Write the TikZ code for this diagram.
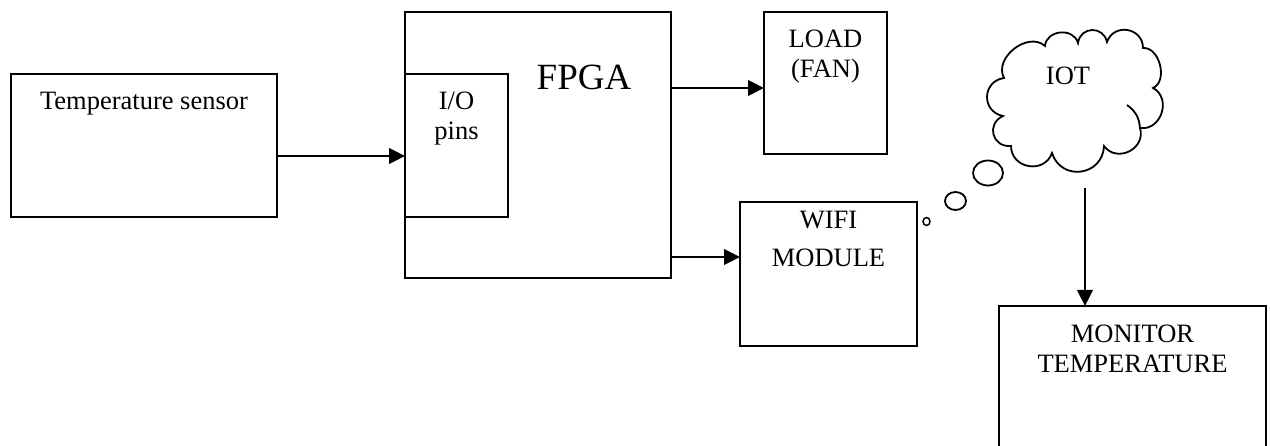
\documentclass[tikz,border=0pt]{standalone}
\usepackage{fontspec}
\setmainfont{Liberation Serif}
\usetikzlibrary{arrows.meta,calc}
\begin{document}
\begin{tikzpicture}[x=1pt,y=-1pt,
  box/.style={draw,line width=2pt,inner sep=0pt,outer sep=0pt},
  arr/.style={line width=2.3pt,-{Triangle[length=16pt,width=15.5pt]}},
  lbl/.style={font=\fontsize{26.5}{30}\selectfont,align=center,inner sep=0pt},
  bubble/.style={draw,line width=1.8pt}]
\useasboundingbox (0,0) rectangle (1270,446);
\clip (0,0) rectangle (1270,446);
% boxes
\node[box,minimum width=266pt,minimum height=143pt] (sensor) at (144,145.5) {};
\node[box,minimum width=266pt,minimum height=266pt] (fpga) at (538,145) {};
\node[box,fill=white,minimum width=103pt,minimum height=143pt] (io) at (456.5,145.5) {};
\node[box,minimum width=123pt,minimum height=142pt] (load) at (825.5,83) {};
\node[box,minimum width=177pt,minimum height=144pt] (wifi) at (828.5,274) {};
\node[box,minimum width=267pt,minimum height=160pt] (monitor) at (1132.5,386) {};
% texts
\node[lbl] (tsens) at (144,104) {Temperature sensor};
\node[lbl] (iot) at (456.5,119) {I/O\\pins};
\node[lbl,font=\fontsize{37}{40}\selectfont] (tfpga) at (584,77.5) {FPGA};
\node[lbl] (tload) at (825.5,57) {LOAD\\(FAN)};
\node[lbl] (twifi) at (828.5,239) {WIFI\\[8pt]MODULE};
\node[lbl] (tmon) at (1132.5,348.5) {MONITOR\\TEMPERATURE};
% cloud
\draw[bubble] (1004,78)
  to[bend left=80,looseness=1.12] (1045,46)
  to[bend left=80,looseness=1.26] (1078,43)
  to[bend left=80,looseness=1.49] (1107,42)
  to[bend left=80,looseness=1.44] (1143,48)
  to[bend left=80,looseness=1.04] (1153,88)
  to[bend left=80,looseness=1.31] (1140,128)
  to[bend left=80,looseness=1.38] (1104,146)
  to[bend left=80,looseness=1.47] (1052,153)
  to[bend left=80,looseness=1.40] (1011,146)
  to[bend left=80,looseness=1.56] (1003,116)
  to[bend left=80,looseness=1.50] (1004,78) -- cycle;
\draw[bubble] (1127,105) to[bend left=25] (1140,128);
\node[lbl] (tiot) at (1068,75.5) {IOT};
% thought bubbles
\draw[bubble] (988,173) ellipse [x radius=15, y radius=12.5];
\draw[bubble] (955.5,201) ellipse [x radius=10.5, y radius=9];
\draw[bubble,line width=1.5pt] (926.5,221.5) ellipse [x radius=3.5, y radius=4];
% connectors
\coordinate (y1) at (0,156);
\coordinate (y2) at (0,88);
\coordinate (y3) at (0,257);
\coordinate (cs) at (1085,188);
\draw[arr] (sensor.east |- y1) -- (io.west |- y1);
\draw[arr] (fpga.east |- y2) -- (load.west |- y2);
\draw[arr] (fpga.east |- y3) -- (wifi.west |- y3);
\draw[arr] (cs) -- (cs |- monitor.north);
\end{tikzpicture}
\end{document}
